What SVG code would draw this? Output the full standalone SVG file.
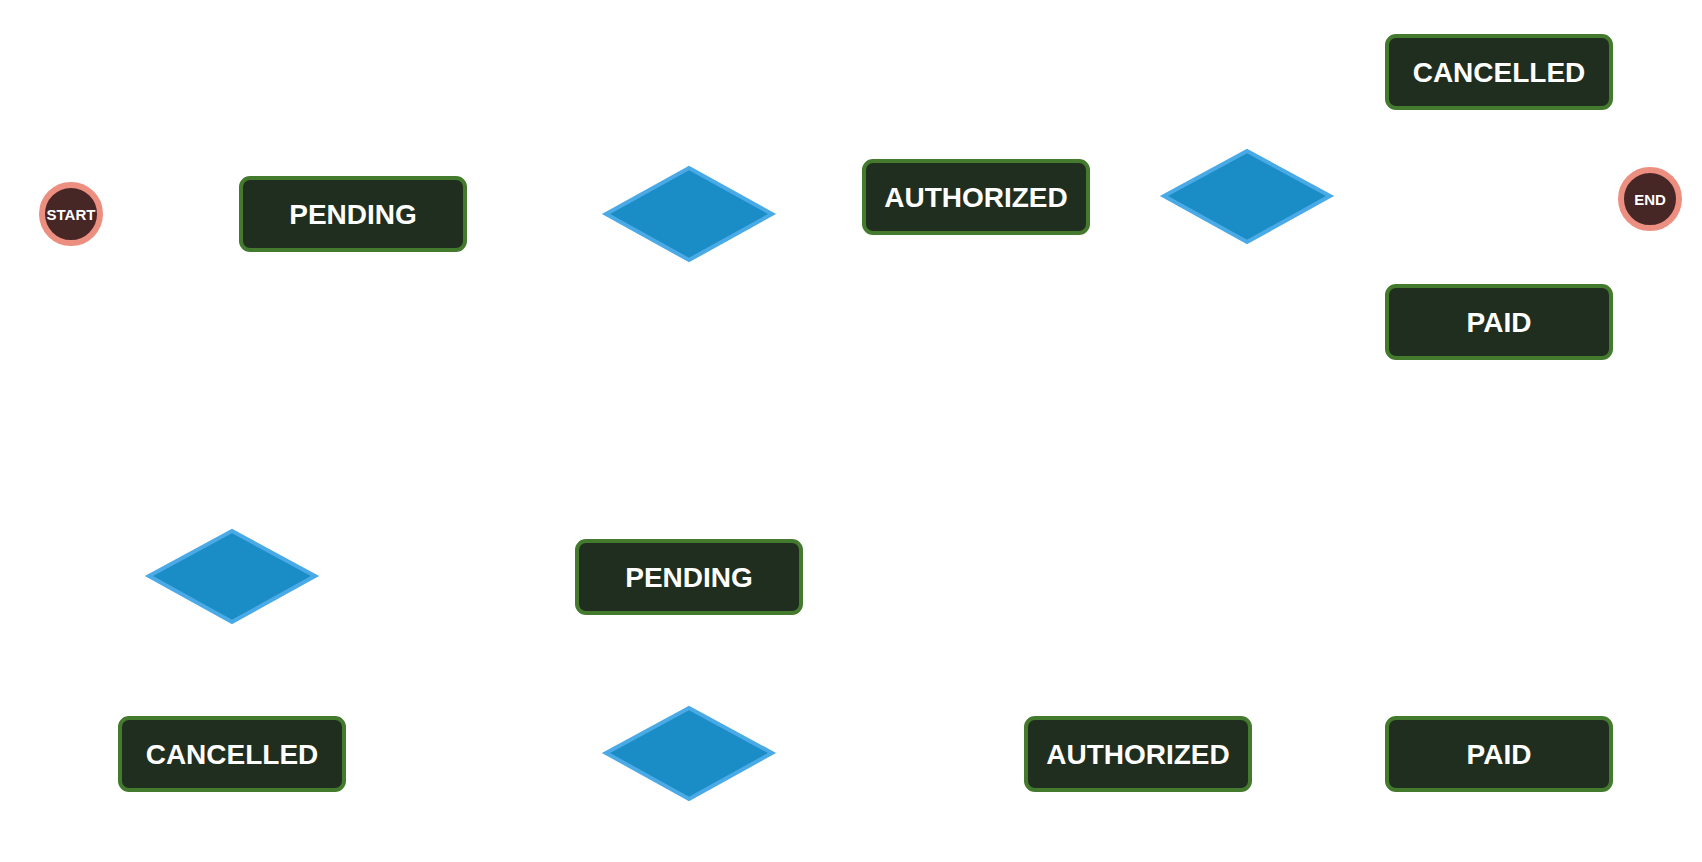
<svg xmlns="http://www.w3.org/2000/svg" width="1702" height="862" viewBox="0 0 1702 862">
<style>
.st rect{fill:#1f2e1e;stroke:#447a2e;stroke-width:4}
.st text{fill:#fff;font-family:"Liberation Sans",Arial,sans-serif;font-weight:bold;font-size:28px;text-anchor:middle;dominant-baseline:central}
.dm polygon{fill:#1a8cc6;stroke:#4aaae6;stroke-width:4}
.ev circle{fill:#472626;stroke:#ec8f80;stroke-width:6}
.ev text{fill:#fff;font-family:"Liberation Sans",Arial,sans-serif;font-weight:bold;font-size:15px;text-anchor:middle;dominant-baseline:central}
</style>
<rect width="1702" height="862" fill="#fff"/>
<g id="connectors"></g>
<g id="start" class="ev"><circle cx="71" cy="214" r="29"/><text x="71" y="214">START</text></g>
<g id="pending1" class="st"><rect x="241" y="178" width="224" height="72" rx="9"/><text x="353" y="214">PENDING</text></g>
<g id="decision1" class="dm"><polygon points="689,168 772,214 689,260 606,214"/></g>
<g id="authorized1" class="st"><rect x="864" y="161" width="224" height="72" rx="9"/><text x="976" y="197">AUTHORIZED</text></g>
<g id="decision2" class="dm"><polygon points="1247,151 1330,196 1247,242 1164,196"/></g>
<g id="cancelled1" class="st"><rect x="1387" y="36" width="224" height="72" rx="9"/><text x="1499" y="72">CANCELLED</text></g>
<g id="end" class="ev"><circle cx="1650" cy="199" r="29"/><text x="1650" y="199">END</text></g>
<g id="paid1" class="st"><rect x="1387" y="286" width="224" height="72" rx="9"/><text x="1499" y="322">PAID</text></g>
<g id="decision3" class="dm"><polygon points="232,531 315,576 232,622 149,576"/></g>
<g id="pending2" class="st"><rect x="577" y="541" width="224" height="72" rx="9"/><text x="689" y="577">PENDING</text></g>
<g id="cancelled2" class="st"><rect x="120" y="718" width="224" height="72" rx="9"/><text x="232" y="754">CANCELLED</text></g>
<g id="decision4" class="dm"><polygon points="689,708 772,753 689,799 606,753"/></g>
<g id="authorized2" class="st"><rect x="1026" y="718" width="224" height="72" rx="9"/><text x="1138" y="754">AUTHORIZED</text></g>
<g id="paid2" class="st"><rect x="1387" y="718" width="224" height="72" rx="9"/><text x="1499" y="754">PAID</text></g>
</svg>
